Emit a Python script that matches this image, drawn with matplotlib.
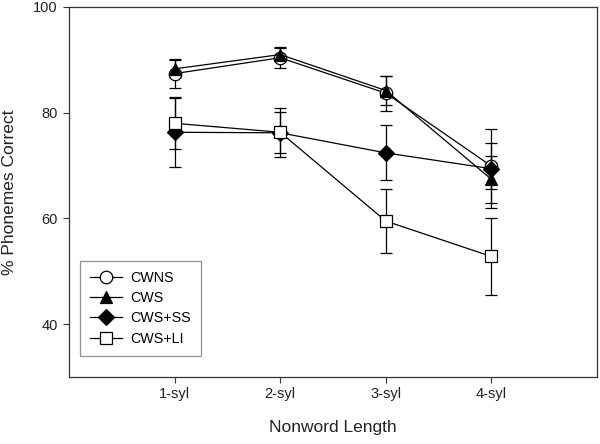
import matplotlib
matplotlib.use("Agg")
import matplotlib.pyplot as plt

plt.rcParams['font.family'] = ['Liberation Sans', 'DejaVu Sans']

categories = ["1-syl", "2-syl", "3-syl", "4-syl"]
cwns = [87.4, 90.4, 83.7, 69.9]
cwns_err = [2.7, 2.0, 3.3, 4.4]
cws = [88.3, 91.0, 84.2, 67.4]
cws_err = [1.6, 1.2, 2.7, 4.4]
cws_ss = [76.3, 76.2, 72.4, 69.4]
cws_ss_err = [6.5, 3.9, 5.2, 7.5]
cws_li = [78.0, 76.3, 59.5, 52.8]
cws_li_err = [4.9, 4.6, 6.0, 7.3]

fig = plt.figure(figsize=(6.0, 4.44), dpi=100)
ax = fig.add_axes([69/600, 1-377/444, (597-69)/600, (377-7)/444])

x = list(range(1, len(categories) + 1))
series = [
    ("CWNS", cwns, cwns_err, 'o', 'white', 9),
    ("CWS", cws, cws_err, '^', 'black', 9),
    ("CWS+SS", cws_ss, cws_ss_err, 'D', 'black', 8),
    ("CWS+LI", cws_li, cws_li_err, 's', 'white', 8),
]
handles = []
for name, y, e, m, fc, ms in series:
    c = ax.errorbar(x, y, yerr=e, marker=m, markersize=ms, markerfacecolor=fc,
                    markeredgecolor='black', markeredgewidth=0.9, color='black',
                    linewidth=0.9, elinewidth=0.9, capsize=4, capthick=0.9,
                    label=name)
    handles.append(c[0])

ax.set_xlim(0, 5)
ax.set_ylim(30, 100)
ax.set_xticks(x)
ax.set_xticklabels(categories)
ax.set_yticks([40, 60, 80, 100])
ax.tick_params(axis='both', labelsize=10.5, direction='out', length=4,
               color='#333333', labelcolor='#222222')
ax.tick_params(axis='x', pad=3)
ax.tick_params(axis='y', pad=4)
for s in ax.spines.values():
    s.set_color('#333333')
    s.set_linewidth(0.9)

ax.set_xlabel("Nonword Length", fontsize=12.5, color='#222222', labelpad=14)
ax.set_ylabel("% Phonemes Correct", fontsize=12.5, color='#222222', labelpad=12)

leg = ax.legend(handles=handles, labels=[s[0] for s in series],
                loc='lower left', bbox_to_anchor=(0.021, 0.057), fontsize=10.3,
                frameon=True, fancybox=False, edgecolor='#777777',
                handlelength=2.2, borderpad=0.7, labelspacing=0.45,
                handletextpad=0.6, numpoints=1, borderaxespad=0)
leg.get_frame().set_linewidth(0.9)

fig.savefig("out.png", dpi=100)
